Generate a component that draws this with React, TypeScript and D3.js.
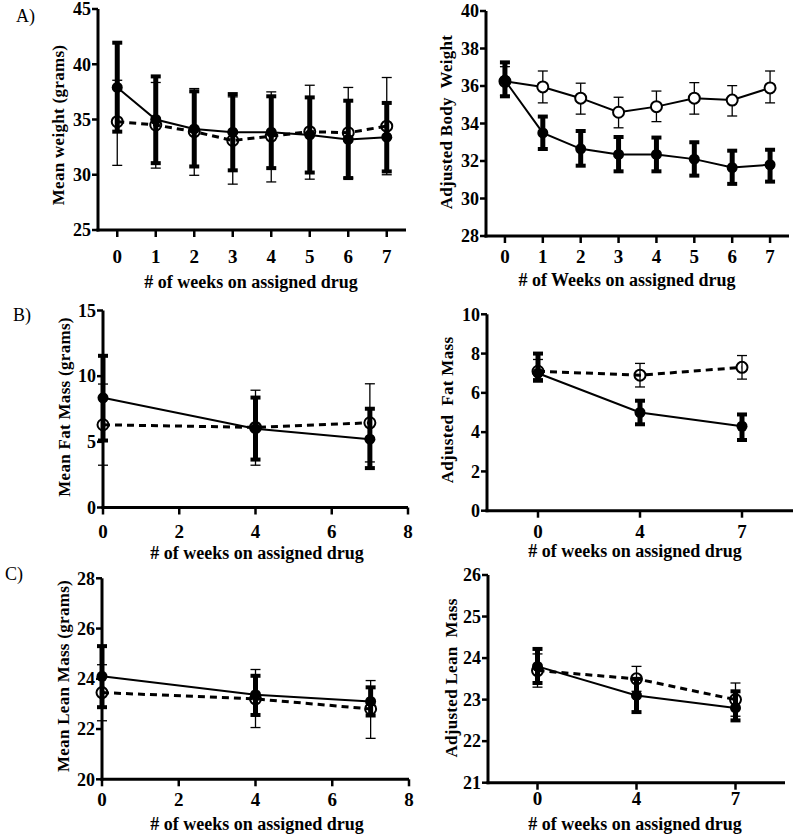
import React from "react";
import * as d3 from "d3";

const FONT = '"Liberation Serif", "Times New Roman", Times, serif';

// ---------- DATA ----------
const weeksAll = [0, 1, 2, 3, 4, 5, 6, 7];
const weeksMass = [0, 4, 7];

// A-left: Mean weight (grams)
const weightDrugMean = [37.9, 35.0, 34.15, 33.85, 33.85, 33.6, 33.2, 33.4];
const weightDrugUpper = [41.95, 38.9, 37.55, 37.3, 37.1, 37.0, 36.7, 36.5];
const weightDrugLower = [33.9, 31.05, 30.75, 30.4, 30.6, 30.2, 29.7, 30.3];
const weightCtrlMean = [34.8, 34.5, 33.9, 33.1, 33.5, 33.9, 33.8, 34.4];
const weightCtrlUpper = [38.55, 38.35, 37.8, 37.05, 37.5, 38.1, 37.9, 38.8];
const weightCtrlLower = [30.85, 30.6, 29.95, 29.15, 29.35, 29.6, 29.7, 30.0];

// A-right: Adjusted body weight
const adjWeightDrugMean = [36.3, 33.5, 32.65, 32.35, 32.35, 32.1, 31.65, 31.8];
const adjWeightDrugUpper = [37.26, 34.37, 33.6, 33.28, 33.25, 33.0, 32.55, 32.6];
const adjWeightDrugLower = [35.45, 32.64, 31.75, 31.45, 31.45, 31.22, 30.78, 30.9];
const adjWeightCtrlMean = [36.25, 35.95, 35.35, 34.6, 34.9, 35.35, 35.25, 35.9];
const adjWeightCtrlUpper = [37.03, 36.8, 36.15, 35.4, 35.73, 36.18, 36.02, 36.8];
const adjWeightCtrlLower = [35.5, 35.1, 34.5, 33.77, 34.1, 34.5, 34.4, 35.1];

// B-left: Mean fat mass (grams)
const fatDrugMean = [8.35, 6.0, 5.2];
const fatDrugUpper = [11.55, 8.37, 7.52];
const fatDrugLower = [5.1, 3.65, 3.0];
const fatCtrlMean = [6.3, 6.1, 6.45];
const fatCtrlUpper = [9.4, 8.93, 9.42];
const fatCtrlLower = [3.22, 3.22, 3.47];

// B-right: Adjusted fat mass
const adjFatDrugMean = [7.0, 5.0, 4.3];
const adjFatDrugUpper = [8.0, 5.6, 4.9];
const adjFatDrugLower = [6.65, 4.4, 3.6];
const adjFatCtrlMean = [7.1, 6.9, 7.3];
const adjFatCtrlUpper = [7.7, 7.5, 7.9];
const adjFatCtrlLower = [6.55, 6.3, 6.7];

// C-left: Mean lean mass (grams)
const leanDrugMean = [24.1, 23.37, 23.1];
const leanDrugUpper = [25.3, 24.12, 23.66];
const leanDrugLower = [22.87, 22.56, 22.54];
const leanCtrlMean = [23.45, 23.2, 22.8];
const leanCtrlUpper = [24.56, 24.37, 23.93];
const leanCtrlLower = [22.33, 22.06, 21.63];

// C-right: Adjusted lean mass
const adjLeanDrugMean = [23.8, 23.1, 22.8];
const adjLeanDrugUpper = [24.22, 23.5, 23.2];
const adjLeanDrugLower = [23.4, 22.7, 22.5];
const adjLeanCtrlMean = [23.7, 23.5, 23.0];
const adjLeanCtrlUpper = [24.1, 23.8, 23.4];
const adjLeanCtrlLower = [23.3, 23.2, 22.6];

// tick labels
const ticksWeightY = [25, 30, 35, 40, 45];
const ticksAdjWeightY = [28, 30, 32, 34, 36, 38, 40];
const ticksFatY = [0, 5, 10, 15];
const ticksAdjFatY = [0, 2, 4, 6, 8, 10];
const ticksLeanY = [20, 22, 24, 26, 28];
const ticksAdjLeanY = [21, 22, 23, 24, 25, 26];
const ticksLinearX = [0, 2, 4, 6, 8];

type Series = { mean: number[]; lower: number[]; upper: number[] };

type PanelCfg = {
  xs: number[];
  categorical: boolean;
  xDomain?: [number, number];
  xRange: [number, number];
  xTicks: number[];
  yDomain: [number, number];
  yRange: [number, number];
  yTicks: number[];
  drug: Series;
  ctrl: Series;
  ctrlDashed: boolean;
  yTitle: string;
  yTitleX: number;
  yTitleY: number;
  xTitle: string;
  xTitleX: number;
  xTitleY: number;
  xTickLabelY: number;
};

function Panel({ c }: { c: PanelCfg }) {
  const y = d3.scaleLinear().domain(c.yDomain).range(c.yRange);
  let xf: (v: number) => number;
  if (c.categorical) {
    const sp = d3
      .scalePoint<string>()
      .domain(c.xs.map(String))
      .range(c.xRange)
      .padding(0.5);
    xf = (v: number) => sp(String(v)) as number;
  } else {
    const sl = d3.scaleLinear().domain(c.xDomain!).range(c.xRange);
    xf = (v: number) => sl(v);
  }
  const x0 = c.xRange[0];
  const x1 = c.xRange[1];
  const yB = c.yRange[0];
  const yT = c.yRange[1];

  const line = d3
    .line<number>()
    .x((_, i) => xf(c.xs[i]))
    .y((d) => y(d));

  const errBars = (s: Series, thick: boolean, key: string) =>
    c.xs.map((xv, i) => {
      const cx = xf(xv);
      const yu = y(s.upper[i]);
      const yl = y(s.lower[i]);
      if (thick) {
        return (
          <g key={key + i}>
            <line x1={cx} x2={cx} y1={yu} y2={yl} stroke="#000" strokeWidth={5} />
            <rect x={cx - 5} y={yu - 2} width={10} height={4} fill="#000" />
            <rect x={cx - 5} y={yl - 2} width={10} height={4} fill="#000" />
          </g>
        );
      }
      return (
        <g key={key + i}>
          <line x1={cx} x2={cx} y1={yu} y2={yl} stroke="#000" strokeWidth={1.3} />
          <line x1={cx - 5} x2={cx + 5} y1={yu} y2={yu} stroke="#000" strokeWidth={1.3} />
          <line x1={cx - 5} x2={cx + 5} y1={yl} y2={yl} stroke="#000" strokeWidth={1.3} />
        </g>
      );
    });

  return (
    <g>
      {/* control series */}
      {errBars(c.ctrl, false, "ce")}
      <path
        d={line(c.ctrl.mean) || ""}
        fill="none"
        stroke="#000"
        strokeWidth={c.ctrlDashed ? 3 : 2}
        strokeDasharray={c.ctrlDashed ? "7,5" : undefined}
      />
      {c.xs.map((xv, i) => (
        <circle
          key={"cm" + i}
          cx={xf(xv)}
          cy={y(c.ctrl.mean[i])}
          r={5.5}
          fill={c.ctrlDashed ? "none" : "#fff"}
          stroke="#000"
          strokeWidth={2}
        />
      ))}
      {/* drug series */}
      {errBars(c.drug, true, "de")}
      <path d={line(c.drug.mean) || ""} fill="none" stroke="#000" strokeWidth={2} />
      {c.xs.map((xv, i) => (
        <circle key={"dm" + i} cx={xf(xv)} cy={y(c.drug.mean[i])} r={5.5} fill="#000" />
      ))}

      {/* axes */}
      <line x1={x0} x2={x0} y1={yB + 1.5} y2={yT} stroke="#000" strokeWidth={3} />
      <line x1={x0 - 1.5} x2={x1} y1={yB} y2={yB} stroke="#000" strokeWidth={3} />
      {c.yTicks.map((t) => (
        <g key={"yt" + t}>
          <line x1={x0 - 6} x2={x0} y1={y(t)} y2={y(t)} stroke="#000" strokeWidth={2.5} />
          <text
            x={x0 - 7}
            y={y(t)}
            dy="0.35em"
            textAnchor="end"
            fontFamily={FONT}
            fontWeight="bold"
            fontSize={18}
          >
            {t}
          </text>
        </g>
      ))}
      {c.xTicks.map((t) => (
        <g key={"xt" + t}>
          <line x1={xf(t)} x2={xf(t)} y1={yB} y2={yB + 7} stroke="#000" strokeWidth={2.5} />
          <text
            x={xf(t)}
            y={c.xTickLabelY}
            textAnchor="middle"
            fontFamily={FONT}
            fontWeight="bold"
            fontSize={19}
          >
            {t}
          </text>
        </g>
      ))}
      <text
        x={c.xTitleX}
        y={c.xTitleY}
        textAnchor="middle"
        fontFamily={FONT}
        fontWeight="bold"
        fontSize={18}
        style={{ whiteSpace: "pre" }}
      >
        {c.xTitle}
      </text>
      <text
        transform={`translate(${c.yTitleX},${c.yTitleY}) rotate(-90)`}
        textAnchor="middle"
        dy="0.35em"
        fontFamily={FONT}
        fontWeight="bold"
        fontSize={17}
        letterSpacing={0.3}
        style={{ whiteSpace: "pre" }}
      >
        {c.yTitle}
      </text>
    </g>
  );
}

const panels: PanelCfg[] = [
  {
    xs: weeksAll,
    categorical: false,
    xDomain: [-0.5, 7.5],
    xRange: [98, 406],
    xTicks: weeksAll,
    yDomain: [25, 45],
    yRange: [230, 9],
    yTicks: ticksWeightY,
    drug: { mean: weightDrugMean, lower: weightDrugLower, upper: weightDrugUpper },
    ctrl: { mean: weightCtrlMean, lower: weightCtrlLower, upper: weightCtrlUpper },
    ctrlDashed: true,
    yTitle: "Mean weight (grams)",
    yTitleX: 58,
    yTitleY: 125,
    xTitle: "# of weeks on assigned drug",
    xTitleX: 251,
    xTitleY: 288,
    xTickLabelY: 263,
  },
  {
    xs: weeksAll,
    categorical: false,
    xDomain: [-0.5, 7.5],
    xRange: [486, 789],
    xTicks: weeksAll,
    yDomain: [28, 40],
    yRange: [236, 11],
    yTicks: ticksAdjWeightY,
    drug: { mean: adjWeightDrugMean, lower: adjWeightDrugLower, upper: adjWeightDrugUpper },
    ctrl: { mean: adjWeightCtrlMean, lower: adjWeightCtrlLower, upper: adjWeightCtrlUpper },
    ctrlDashed: false,
    yTitle: "Adjusted Body  Weight",
    yTitleX: 446,
    yTitleY: 122,
    xTitle: "# of Weeks on assigned drug",
    xTitleX: 627,
    xTitleY: 286,
    xTickLabelY: 263,
  },
  {
    xs: weeksMass,
    categorical: false,
    xDomain: [0, 8],
    xRange: [103, 408],
    xTicks: ticksLinearX,
    yDomain: [0, 15],
    yRange: [507.5, 310.5],
    yTicks: ticksFatY,
    drug: { mean: fatDrugMean, lower: fatDrugLower, upper: fatDrugUpper },
    ctrl: { mean: fatCtrlMean, lower: fatCtrlLower, upper: fatCtrlUpper },
    ctrlDashed: true,
    yTitle: "Mean Fat Mass (grams)",
    yTitleX: 64,
    yTitleY: 407,
    xTitle: "# of weeks on assigned drug",
    xTitleX: 257,
    xTitleY: 559,
    xTickLabelY: 538,
  },
  {
    xs: weeksMass,
    categorical: true,
    xRange: [487, 793],
    xTicks: weeksMass,
    yDomain: [0, 10],
    yRange: [510.7, 314.3],
    yTicks: ticksAdjFatY,
    drug: { mean: adjFatDrugMean, lower: adjFatDrugLower, upper: adjFatDrugUpper },
    ctrl: { mean: adjFatCtrlMean, lower: adjFatCtrlLower, upper: adjFatCtrlUpper },
    ctrlDashed: true,
    yTitle: "Adjusted  Fat Mass",
    yTitleX: 447,
    yTitleY: 410,
    xTitle: "# of weeks on assigned drug",
    xTitleX: 635,
    xTitleY: 557,
    xTickLabelY: 538,
  },
  {
    xs: weeksMass,
    categorical: false,
    xDomain: [0, 8],
    xRange: [102, 409],
    xTicks: ticksLinearX,
    yDomain: [20, 28],
    yRange: [779.3, 578.3],
    yTicks: ticksLeanY,
    drug: { mean: leanDrugMean, lower: leanDrugLower, upper: leanDrugUpper },
    ctrl: { mean: leanCtrlMean, lower: leanCtrlLower, upper: leanCtrlUpper },
    ctrlDashed: true,
    yTitle: "Mean Lean Mass (grams)",
    yTitleX: 63,
    yTitleY: 676,
    xTitle: "# of weeks on assigned drug",
    xTitleX: 257,
    xTitleY: 830,
    xTickLabelY: 806,
  },
  {
    xs: weeksMass,
    categorical: true,
    xRange: [488, 785],
    xTicks: weeksMass,
    yDomain: [21, 26],
    yRange: [782.7, 575],
    yTicks: ticksAdjLeanY,
    drug: { mean: adjLeanDrugMean, lower: adjLeanDrugLower, upper: adjLeanDrugUpper },
    ctrl: { mean: adjLeanCtrlMean, lower: adjLeanCtrlLower, upper: adjLeanCtrlUpper },
    ctrlDashed: true,
    yTitle: "Adjusted Lean  Mass",
    yTitleX: 451,
    yTitleY: 678,
    xTitle: "# of weeks on assigned drug",
    xTitleX: 635,
    xTitleY: 830,
    xTickLabelY: 805,
  },
];

const panelLetters = ["A)", "B)", "C)"];
const letterPos = [
  [16, 22],
  [13, 321],
  [5, 580],
];

export default function App() {
  return (
    <svg
      width={800}
      height={838}
      style={{ position: "absolute", left: 0, top: 0, background: "#fff" }}
    >
      <rect width={800} height={838} fill="#fff" />
      {panels.map((p, i) => (
        <Panel key={i} c={p} />
      ))}
      {panelLetters.map((l, i) => (
        <text
          key={l}
          x={letterPos[i][0]}
          y={letterPos[i][1]}
          fontFamily={FONT}
          fontSize={18}
        >
          {l}
        </text>
      ))}
    </svg>
  );
}
